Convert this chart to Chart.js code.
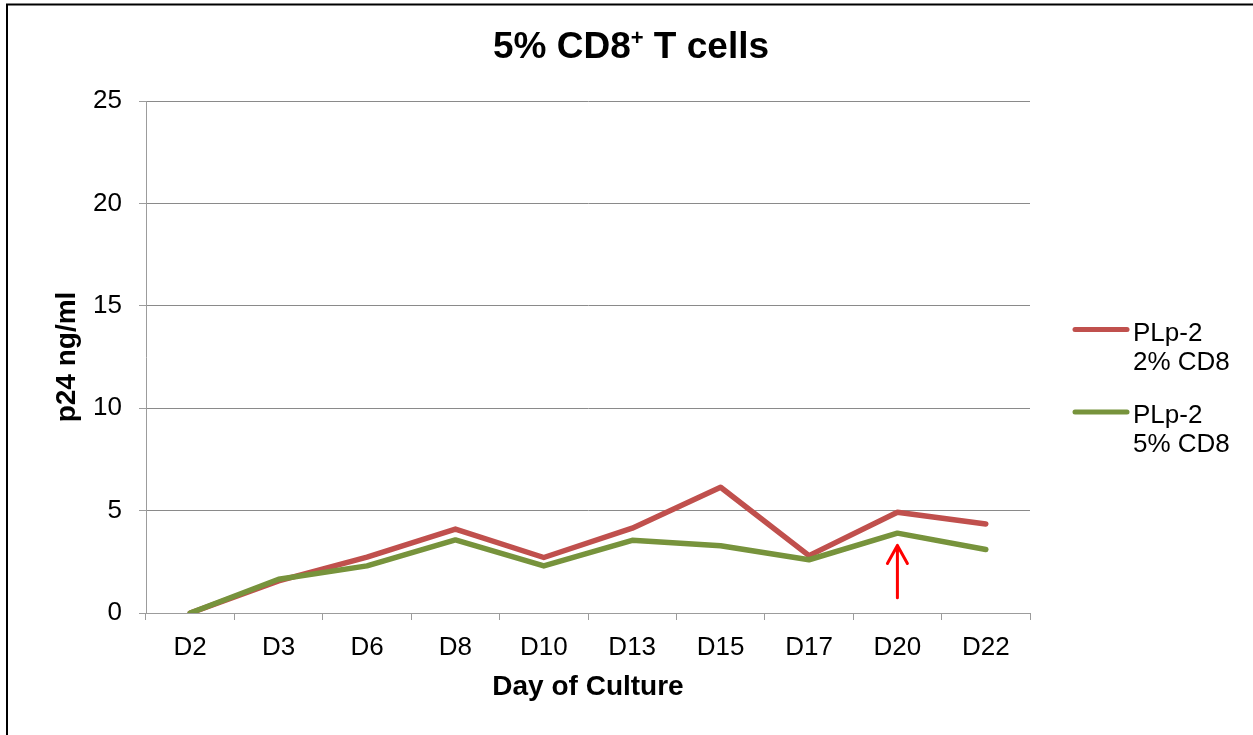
<!DOCTYPE html>
<html>
<head>
<meta charset="utf-8">
<title>5% CD8+ T cells</title>
<script src="https://cdn.jsdelivr.net/npm/chart.js@4.4.1/dist/chart.umd.min.js"></script>
<style>
  html, body { margin: 0; padding: 0; background: #ffffff; }
  canvas { display: block; }
</style>
</head>
<body>
<canvas id="chart" width="1253" height="735"></canvas>
<script>
// p24 concentration (ng/ml) by day of culture
const days = ['D2', 'D3', 'D6', 'D8', 'D10', 'D13', 'D15', 'D17', 'D20', 'D22'];
const plp2Cd8Two = [0, 1.57, 2.73, 4.1, 2.71, 4.14, 6.14, 2.8, 4.92, 4.35];
const plp2Cd8Five = [0, 1.65, 2.3, 3.57, 2.3, 3.55, 3.28, 2.6, 3.9, 3.1];
const seriesLabels = [['PLp-2', '2% CD8'], ['PLp-2', '5% CD8']];
const yMin = 0, yMax = 25, yStep = 5;

// red arrow marking D20
const arrowDay = 'D20';
const arrowFromValue = 0.75;
const arrowToValue = 3.3;

const FONT = "'Liberation Sans', Arial, sans-serif";
const RED = '#C0504D';
const GREEN = '#77933C';
const GRID = '#8a8a8a';
const AXIS = '#9c9c9c';

const framePlugin = {
  id: 'frame',
  beforeDraw(chart) {
    const ctx = chart.ctx;
    ctx.save();
    ctx.fillStyle = '#ffffff';
    ctx.fillRect(0, 0, chart.width, chart.height);
    ctx.strokeStyle = '#000000';
    ctx.lineWidth = 2;
    ctx.strokeRect(7, 4.5, chart.width + 40, chart.height + 40);
    ctx.restore();
  }
};

const titlePlugin = {
  id: 'supTitle',
  afterDraw(chart) {
    const ctx = chart.ctx;
    const parts = [
      { t: '5% CD8', size: 37, rise: 0 },
      { t: '+', size: 22, rise: 13 },
      { t: ' T cells', size: 37, rise: 0 }
    ];
    ctx.save();
    ctx.fillStyle = '#000000';
    ctx.textBaseline = 'alphabetic';
    ctx.textAlign = 'left';
    let total = 0;
    parts.forEach(p => {
      ctx.font = 'bold ' + p.size + 'px ' + FONT;
      p.w = ctx.measureText(p.t).width;
      total += p.w;
    });
    let x = 631 - total / 2;
    const baseline = 58;
    parts.forEach(p => {
      ctx.font = 'bold ' + p.size + 'px ' + FONT;
      ctx.fillText(p.t, x, baseline - p.rise);
      x += p.w;
    });
    ctx.restore();
  }
};

const legendPlugin = {
  id: 'sideLegend',
  afterDraw(chart) {
    const ctx = chart.ctx;
    ctx.save();
    chart.data.datasets.forEach((ds, i) => {
      const y = 329.5 + i * 82.5;
      ctx.strokeStyle = ds.borderColor;
      ctx.lineWidth = 5;
      ctx.lineCap = 'round';
      ctx.beginPath();
      ctx.moveTo(1075, y);
      ctx.lineTo(1127, y);
      ctx.stroke();
      ctx.fillStyle = '#000000';
      ctx.font = '26px ' + FONT;
      ctx.textAlign = 'left';
      ctx.textBaseline = 'middle';
      ds.label.forEach((line, k) => {
        ctx.fillText(line, 1133, y + 4 + k * 29);
      });
    });
    ctx.restore();
  }
};

const arrowPlugin = {
  id: 'dayArrow',
  afterDatasetsDraw(chart) {
    const x = chart.scales.x.getPixelForValue(days.indexOf(arrowDay));
    const yTail = chart.scales.y.getPixelForValue(arrowFromValue);
    const yTip = chart.scales.y.getPixelForValue(arrowToValue);
    const ctx = chart.ctx;
    ctx.save();
    ctx.strokeStyle = '#ff0000';
    ctx.lineWidth = 3;
    ctx.lineCap = 'round';
    ctx.lineJoin = 'round';
    ctx.beginPath();
    ctx.moveTo(x, yTail);
    ctx.lineTo(x, yTip + 1);
    ctx.moveTo(x - 10, yTip + 18);
    ctx.lineTo(x, yTip);
    ctx.lineTo(x + 10, yTip + 18);
    ctx.stroke();
    ctx.restore();
  }
};

new Chart(document.getElementById('chart'), {
  type: 'line',
  data: {
    labels: days,
    datasets: [
      {
        label: seriesLabels[0],
        data: plp2Cd8Two,
        borderColor: RED,
        backgroundColor: RED,
        borderWidth: 5.5,
        borderCapStyle: 'round',
        borderJoinStyle: 'round',
        pointRadius: 0,
        tension: 0,
        order: 1
      },
      {
        label: seriesLabels[1],
        data: plp2Cd8Five,
        borderColor: GREEN,
        backgroundColor: GREEN,
        borderWidth: 5.5,
        borderCapStyle: 'round',
        borderJoinStyle: 'round',
        pointRadius: 0,
        tension: 0,
        order: 0
      }
    ]
  },
  options: {
    responsive: false,
    animation: false,
    events: [],
    layout: { padding: { top: 101, right: 223, left: 0, bottom: 0 } },
    plugins: {
      legend: { display: false },
      title: { display: false },
      tooltip: { enabled: false }
    },
    scales: {
      x: {
        type: 'category',
        offset: true,
        afterFit(scale) { scale.height = 122; },
        grid: {
          offset: true,
          drawOnChartArea: false,
          drawTicks: true,
          tickLength: 7,
          tickColor: AXIS,
          lineWidth: 1
        },
        border: { display: true, color: AXIS, width: 1 },
        ticks: {
          color: '#000000',
          font: { family: FONT, size: 26 },
          padding: 12,
          maxRotation: 0,
          autoSkip: false
        },
        title: {
          display: true,
          text: 'Day of Culture',
          color: '#000000',
          font: { family: FONT, size: 28, weight: 'bold' },
          padding: { top: 0, bottom: 31 }
        }
      },
      y: {
        min: yMin,
        max: yMax,
        afterFit(scale) { scale.width = 146; },
        grid: {
          color: GRID,
          lineWidth: 1,
          drawTicks: true,
          tickLength: 7,
          tickColor: AXIS
        },
        border: { display: true, color: AXIS, width: 1 },
        ticks: {
          stepSize: yStep,
          color: '#000000',
          font: { family: FONT, size: 26 },
          padding: 17
        },
        title: {
          display: true,
          text: 'p24 ng/ml',
          color: '#000000',
          font: { family: FONT, size: 28, weight: 'bold' },
          padding: { top: 50, bottom: 0 }
        }
      }
    }
  },
  plugins: [framePlugin, arrowPlugin, titlePlugin, legendPlugin]
});
</script>
</body>
</html>
